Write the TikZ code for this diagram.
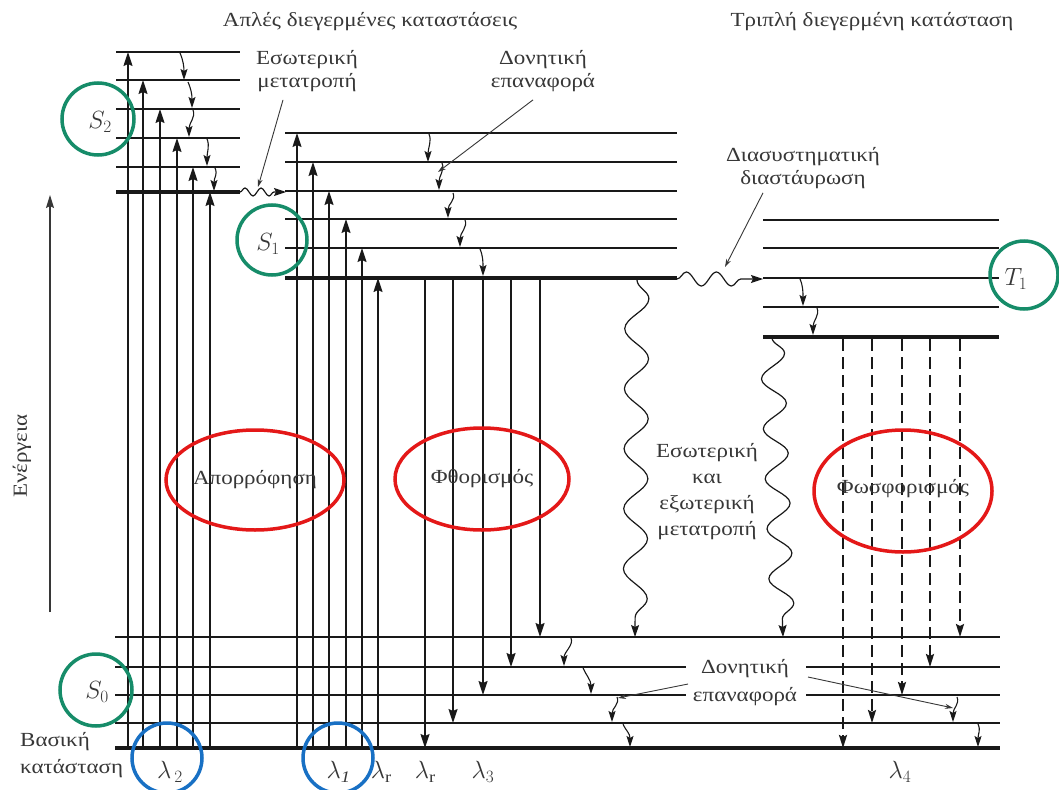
\documentclass[tikz,border=0pt]{standalone}
\usepackage{fontspec}
\setmainfont{Liberation Serif}[FakeStretch=1.15]
\usetikzlibrary{arrows.meta,decorations.pathmorphing,calc}
\definecolor{cgreen}{RGB}{22,140,105}
\definecolor{cred}{RGB}{228,24,24}
\definecolor{cblue}{RGB}{24,112,196}
\definecolor{ink}{RGB}{25,25,25}
\definecolor{txt}{RGB}{55,55,55}
\begin{document}
\begin{tikzpicture}[x=1pt,y=-1pt,
  lvl/.style={draw=ink,line width=1.6pt},
  thk/.style={draw=ink,line width=4pt},
  vup/.style={draw=ink,line width=1.4pt,-{Stealth[length=14pt,width=9pt,inset=2pt]}},
  vdn/.style={draw=ink,line width=1.4pt,-{Stealth[length=14pt,width=9pt,inset=2pt]}},
  vr/.style={draw=ink,line width=1.1pt,-{Stealth[length=11pt,width=7pt,inset=2pt]}},
  ph/.style={draw=ink,line width=2pt,dash pattern=on 12pt off 6pt,-{Stealth[length=13pt,width=8pt,inset=2pt]}},
  ptr/.style={draw=txt,line width=0.9pt,-{Stealth[length=8pt,width=5pt]}},
  wv/.style={draw=ink,line width=1.2pt,decorate,-{Stealth[length=12pt,width=8pt,inset=2pt]}},
  lab/.style={font=\fontsize{20}{23}\selectfont,align=center,text=txt,inner sep=0pt},
  slab/.style={font=\fontsize{23}{26}\selectfont,text=txt,inner sep=0pt},
  gcirc/.style={draw=cgreen,line width=3.5pt},
  bcirc/.style={draw=cblue,line width=3.5pt},
  rell/.style={draw=cred,line width=3.5pt}
]
\useasboundingbox (0,0) rectangle (1059,789);
\fill[white] (0,0) rectangle (1059,789);

% ---------- titles ----------
\node[lab] (t1) at (370,22) {Απλές διεγερμένες καταστάσεις};
\node[lab] (t2) at (872,22) {Τριπλή διεγερμένη κατάσταση};

% ---------- energy axis ----------
\coordinate (eb) at (50,612);
\coordinate (et) at (50,195);
\draw[draw=txt,line width=1.3pt,-{Stealth[length=13pt,width=8pt,inset=2pt]}] (eb) -- (et);
\node[lab,rotate=90] (en) at (22,456) {Ενέργεια};

% ---------- S2 levels ----------
\foreach \y in {52,80,109,138,167} \draw[lvl] (116,\y) -- (240,\y);
\draw[thk] (116,192) -- (240,192);
% ---------- S1 levels ----------
\foreach \y in {133,162,191,219,248} \draw[lvl] (285,\y) -- (677,\y);
\draw[thk] (285,278) -- (677,278);
% ---------- T1 levels ----------
\foreach \y in {220,248,278,307} \draw[lvl] (763,\y) -- (999,\y);
\draw[thk] (763,337) -- (999,337);
% ---------- S0 levels ----------
\draw[lvl] (115,637) -- (1000,637);
\draw[lvl] (115,667) -- (686,667);
\draw[lvl] (806,667) -- (1000,667);
\draw[lvl] (115,695) -- (686,695);
\draw[lvl] (806,695) -- (1000,695);
\draw[lvl] (115,723) -- (1000,723);
\draw[thk] (115,748) -- (1000,748);

% ---------- absorption into S2 ----------
\foreach \x/\y in {128/52,143/80,160/109,177/138,193/167,210/192}
  \draw[vup] (\x,746) -- (\x,\y);
% ---------- absorption into S1 ----------
\foreach \x/\y in {297/133,313/162,329/191,346/219,362/248,378/278}
  \draw[vup] (\x,746) -- (\x,\y);
% ---------- fluorescence ----------
\foreach \x/\y in {425/748,453/723,483/695,511/667,540/637}
  \draw[vdn] (\x,280) -- (\x,\y);
% ---------- phosphorescence ----------
\foreach \x/\y in {843/748,872/723,902/695,930/667,960/637}
  \draw[ph] (\x,339) -- (\x,\y);

% ---------- vibrational relaxation ----------
\foreach \a/\b/\c/\d in {180/53/184/80, 188/82/192/108, 193/110/189/137, 207/139/207/166, 215/168/214/191,
  429/134/428/162, 442/163/439/190, 453/193/448/218, 465/220/460/247, 480/249/483/276,
  800/279/803/306, 817/308/813/335,
  571/638/564/666, 583/668/591/694, 617/697/612/722, 623/724/630/747,
  957/697/953/722, 978/724/978/747}
  \draw[vr] (\a,\b) .. controls ($(\a,\b)+(3,7)$) and ($(\c,\d)+(0,-14)$) .. (\c,\d);

% ---------- wavy transitions ----------
\coordinate (ic2a) at (240,192); \coordinate (ic2b) at (286,192);
\draw[wv,decoration={snake,amplitude=4pt,segment length=16pt,post length=12pt}] (ic2a) -- (ic2b);
\coordinate (isca) at (677,279); \coordinate (iscb) at (763,279);
\draw[wv,decoration={snake,amplitude=7pt,segment length=30pt,post length=14pt}] (isca) -- (iscb);
\coordinate (ic1a) at (637,280); \coordinate (ic1b) at (635,637);
\draw[wv,decoration={snake,amplitude=12pt,segment length=60pt,post length=12pt}] (ic1a) -- (ic1b);
\coordinate (ic3a) at (772,338); \coordinate (ic3b) at (783,637);
\draw[wv,decoration={snake,amplitude=12pt,segment length=50pt,post length=12pt}] (ic3a) -- (ic3b);

% ---------- annotation labels and pointers ----------
\node[lab] (iclab) at (307,71) {Εσωτερική\\μετατροπή};
\coordinate (icp) at (258,187);
\draw[ptr] ($(iclab.south)+(-24,8)$) -- (icp);

\node[lab] (vr1) at (543,71) {Δονητική\\επαναφορά};
\coordinate (vrp) at (438,172);
\draw[ptr] ($(vr1.south)+(-10,8)$) -- (vrp);

\node[lab] (isclab) at (803,168) {Διασυστηματική\\διαστάυρωση};
\coordinate (iscp) at (725,267);
\draw[ptr] ($(isclab.south)+(-40,4)$) -- (iscp);

\node[lab,font=\fontsize{20}{28}\selectfont] (vr2) at (745,683) {Δονητική\\επαναφορά};
\coordinate (vrl) at (618,698);
\coordinate (vrr) at (953,708);
\draw[ptr] (688,684) -- (vrl);
\draw[ptr] (808,677) -- (vrr);

\node[lab,font=\fontsize{20}{26}\selectfont] (ext) at (707,492) {Εσωτερική\\και\\εξωτερική\\μετατροπή};

\node[lab,align=left,anchor=west,font=\fontsize{20}{27}\selectfont] (gs) at (20,755) {Βασική\\κατάσταση};

% ---------- state labels ----------
\node[slab] (s2) at (100,122) {$S_2$};
\node[slab] (s1) at (268,244) {$S_1$};
\node[slab] (tt1) at (1016,279) {$T_1$};
\node[slab] (s0) at (97,692) {$S_0$};

\node[slab] (l2) at (170,772) {$\lambda_{\,2}$};
\node[slab] (l1) at (338,772) {$\lambda_{\mathit{1}}$};
\node[slab] (lr1) at (381,772) {$\lambda_{\mathrm{r}}$};
\node[slab] (lr2) at (425,772) {$\lambda_{\mathrm{r}}$};
\node[slab] (l3) at (483,772) {$\lambda_3$};
\node[slab] (l4) at (900,772) {$\lambda_4$};

% ---------- ellipses ----------
\draw[rell] (255,480) ellipse [x radius=89, y radius=50];
\node[lab] (abs) at (255,480) {Απορρόφηση};
\draw[rell] (482,479) ellipse [x radius=87, y radius=51];
\node[lab] (flu) at (482,479) {Φθορισμός};
\draw[rell] (903,491) ellipse [x radius=89, y radius=61];
\node[lab] (pho) at (903,489) {Φωσφορισμός};

% ---------- circles ----------
\draw[gcirc] (98,119) circle [radius=36];
\draw[gcirc] (272,240) circle [radius=35];
\draw[gcirc] (1024,275) circle [radius=34];
\draw[gcirc] (96,690) circle [radius=36];
\draw[bcirc] (167,758) circle [radius=35];
\draw[bcirc] (338,758) circle [radius=35];
\end{tikzpicture}
\end{document}
